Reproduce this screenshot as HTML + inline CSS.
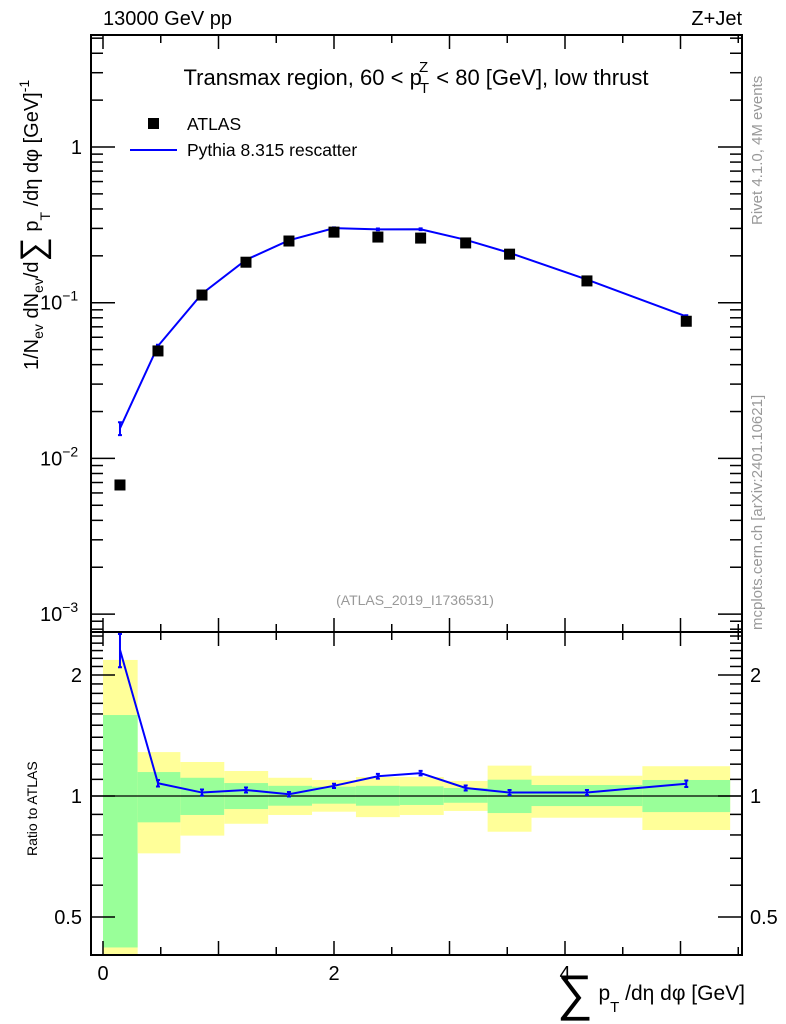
<!DOCTYPE html>
<html><head><meta charset="utf-8"><style>
body{margin:0;background:#fff;}
svg{display:block;font-family:"Liberation Sans",sans-serif;}
</style></head><body>
<svg id="chart" width="786" height="1024" viewBox="0 0 786 1024" xmlns="http://www.w3.org/2000/svg">
<g id="bands"></g>
<g id="marks"></g>
<g id="axes"></g>
<text x="103" y="25" font-size="20">13000 GeV pp</text>
<text x="742" y="25" font-size="20" text-anchor="end">Z+Jet</text>
<text x="416" y="85" font-size="22" text-anchor="middle">Transmax region, 60 &lt; p<tspan font-size="15" dy="8" dx="-2">T</tspan><tspan font-size="15" dy="-21" dx="-10">Z</tspan><tspan dy="13" dx="2"> &lt; 80 [GeV], low thrust</tspan></text>
<rect x="148" y="118" width="11" height="11" fill="#000"/>
<text x="187" y="130" font-size="17.5">ATLAS</text>
<line x1="130" y1="150" x2="177" y2="150" stroke="#0000ff" stroke-width="2"/>
<text x="187" y="156" font-size="17.5">Pythia 8.315 rescatter</text>
<text x="415" y="605" font-size="14" fill="#999" text-anchor="middle">(ATLAS_2019_I1736531)</text>
<text transform="translate(762,225) rotate(-90)" font-size="15" fill="#999">Rivet 4.1.0,  4M events</text>
<text transform="translate(762,630) rotate(-90)" font-size="15" fill="#999">mcplots.cern.ch [arXiv:2401.10621]</text>
<text transform="translate(38,370) rotate(-90)" font-size="20">1/N<tspan font-size="14" dy="5">ev</tspan><tspan dy="-5"> dN</tspan><tspan font-size="14" dy="5">ev</tspan><tspan dy="-5">/d</tspan><tspan font-size="34" dy="6">∑</tspan><tspan dy="-6"> p</tspan><tspan font-size="14" dy="12">T</tspan><tspan dy="-12"> /dη dφ  [GeV]</tspan><tspan font-size="14" dy="-9">-1</tspan></text>
<text transform="translate(37,856) rotate(-90)" font-size="14">Ratio to ATLAS</text>
<text x="745" y="1000" font-size="21" text-anchor="end"><tspan font-size="50" dy="10">∑</tspan><tspan dy="-10"> p</tspan><tspan font-size="15" dy="12">T</tspan><tspan dy="-12"> /dη dφ [GeV]</tspan></text>
</svg>
<script>
const xCenters=[0.147,0.476,0.857,1.238,1.61,2.0,2.38,2.75,3.14,3.52,4.19,5.05];
const binEdges=[0,0.3,0.67,1.05,1.43,1.81,2.19,2.57,2.95,3.33,3.71,4.67,5.43];
const atlasVals=[0.00675,0.049,0.112,0.182,0.249,0.284,0.264,0.26,0.242,0.205,0.138,0.076];
const mcRatio=[2.31,1.076,1.02,1.035,1.01,1.06,1.12,1.14,1.047,1.02,1.02,1.073];
const mcRatioErr=[0.22,0.02,0.018,0.015,0.013,0.013,0.015,0.015,0.015,0.015,0.015,0.02];
const yelHi=[2.18,1.286,1.215,1.154,1.11,1.096,1.115,1.115,1.09,1.19,1.123,1.186];
const yelLo=[0.3,0.72,0.797,0.853,0.897,0.914,0.886,0.897,0.918,0.815,0.883,0.823];
const grnHi=[1.59,1.147,1.11,1.077,1.06,1.055,1.06,1.057,1.047,1.098,1.065,1.096];
const grnLo=[0.42,0.86,0.897,0.928,0.946,0.957,0.946,0.95,0.962,0.907,0.944,0.912];
const xTicks=[0,2,4];
const mainYTicks=[1,0.1,0.01,0.001];
const ratioYTicks=[0.5,1,2];

const NS="http://www.w3.org/2000/svg";
const L=91,R=742,MT=35,MB=632,RT=632,RB=955;
const xs=v=>103+v*115.5;
const ym=v=>147-Math.log10(v)*155.7;
const yr=v=>Math.min(RB,Math.max(RT,796-Math.log10(v)*402));
function mk(t,a,p){const e=document.createElementNS(NS,t);for(const k in a)e.setAttribute(k,a[k]);p.appendChild(e);return e;}
const bands=document.getElementById('bands'),marks=document.getElementById('marks'),axes=document.getElementById('axes');
for(let i=0;i<xCenters.length;i++){
 const x0=xs(binEdges[i]),x1=xs(binEdges[i+1]);
 let r=mk('rect',{x:x0,y:yr(yelHi[i]),width:x1-x0,height:yr(yelLo[i])-yr(yelHi[i]),fill:'#ffff99'},bands);
 
 
 r=mk('rect',{x:x0,y:yr(grnHi[i]),width:x1-x0,height:yr(grnLo[i])-yr(grnHi[i]),fill:'#99ff99'},bands);
 
 
}
let ln=mk('line',{x1:L,x2:R,y1:yr(1),y2:yr(1),stroke:'#000','stroke-width':1.2},marks);


let pts=xCenters.map((x,i)=>xs(x)+','+ym(atlasVals[i]*mcRatio[i])).join(' ');
let pl=mk('polyline',{points:pts,fill:'none',stroke:'#0000ff','stroke-width':2},marks);


pts=xCenters.map((x,i)=>xs(x)+','+yr(mcRatio[i])).join(' ');
pl=mk('polyline',{points:pts,fill:'none',stroke:'#0000ff','stroke-width':2},marks);


for(let i=0;i<xCenters.length;i++){
 const x=xs(xCenters[i]);
 const mc=atlasVals[i]*mcRatio[i],e=mcRatioErr[i]*atlasVals[i];
 for(const [y1,y2] of [[ym(mc+e),ym(mc-e)],[yr(mcRatio[i]+mcRatioErr[i]),yr(mcRatio[i]-mcRatioErr[i])]]){
  const g=mk('path',{d:`M${x},${y1}V${y2}M${x-2},${y1}h4M${x-2},${y2}h4`,stroke:'#0000ff','stroke-width':2,fill:'none'},marks);
  
  
 }
 const s=mk('rect',{x:x-5.5,y:ym(atlasVals[i])-5.5,width:11,height:11,fill:'#000'},marks);
 
 
}
for(const [t,b] of [[MT,MB],[RT,RB]]){
 const f=mk('rect',{x:L,y:t,width:R-L,height:b-t,fill:'none',stroke:'#000','stroke-width':2},axes);
 
 
}
for(let v=0;v<=5.5;v+=0.5){
 const x=xs(v),len=Number.isInteger(v)?14:8;
 for(const [y,d] of [[MT,1],[MB,-1],[RT,1],[RB,-1]]) mk('line',{x1:x,x2:x,y1:y,y2:y+d*len,stroke:'#000','stroke-width':1.5},axes);
}
xTicks.forEach(v=>{const t=mk('text',{x:xs(v),y:980,'font-size':20,'text-anchor':'middle'},axes);t.textContent=v;
 
 });
for(let d=-4;d<=0;d++)for(let m=1;m<10;m++){
 const v=m*Math.pow(10,d),y=ym(v);if(y<MT||y>MB)continue;
 const len=m===1?24:12;
 mk('line',{x1:L,x2:L+len,y1:y,y2:y,stroke:'#000','stroke-width':1.5},axes);
 mk('line',{x1:R,x2:R-len,y1:y,y2:y,stroke:'#000','stroke-width':1.5},axes);
}
mainYTicks.forEach(v=>{const y=ym(v)+7;let t;
 if(v===1){t=mk('text',{x:82,y:y,'font-size':20,'text-anchor':'end'},axes);t.textContent='1';}
 else{t=mk('text',{x:40,y:y,'font-size':20},axes);
  const e=Math.round(Math.log10(v));
  t.textContent='10';
  const sp=mk('tspan',{'font-size':14,dy:-9},t);sp.textContent=String(e).replace('-','\u2212');}
 
 });
[0.4,0.5,0.6,0.7,0.8,0.9,1,1.1,1.2,1.3,1.4,1.5,1.6,1.7,1.8,1.9,2,2.1,2.2,2.3,2.4,2.5].forEach(v=>{
 const y=796-Math.log10(v)*402;if(y<RT||y>RB)return;
 const len=(v===0.5||v===1||v===2)?24:12;
 mk('line',{x1:L,x2:L+len,y1:y,y2:y,stroke:'#000','stroke-width':1.5},axes);
 mk('line',{x1:R,x2:R-len,y1:y,y2:y,stroke:'#000','stroke-width':1.5},axes);
});
ratioYTicks.forEach(v=>{const y=yr(v)+7;
 let t=mk('text',{x:82,y:y,'font-size':20,'text-anchor':'end'},axes);t.textContent=v;
 
 
 t=mk('text',{x:750,y:y,'font-size':20},axes);t.textContent=v;
 
 });
</script>
</body></html>
